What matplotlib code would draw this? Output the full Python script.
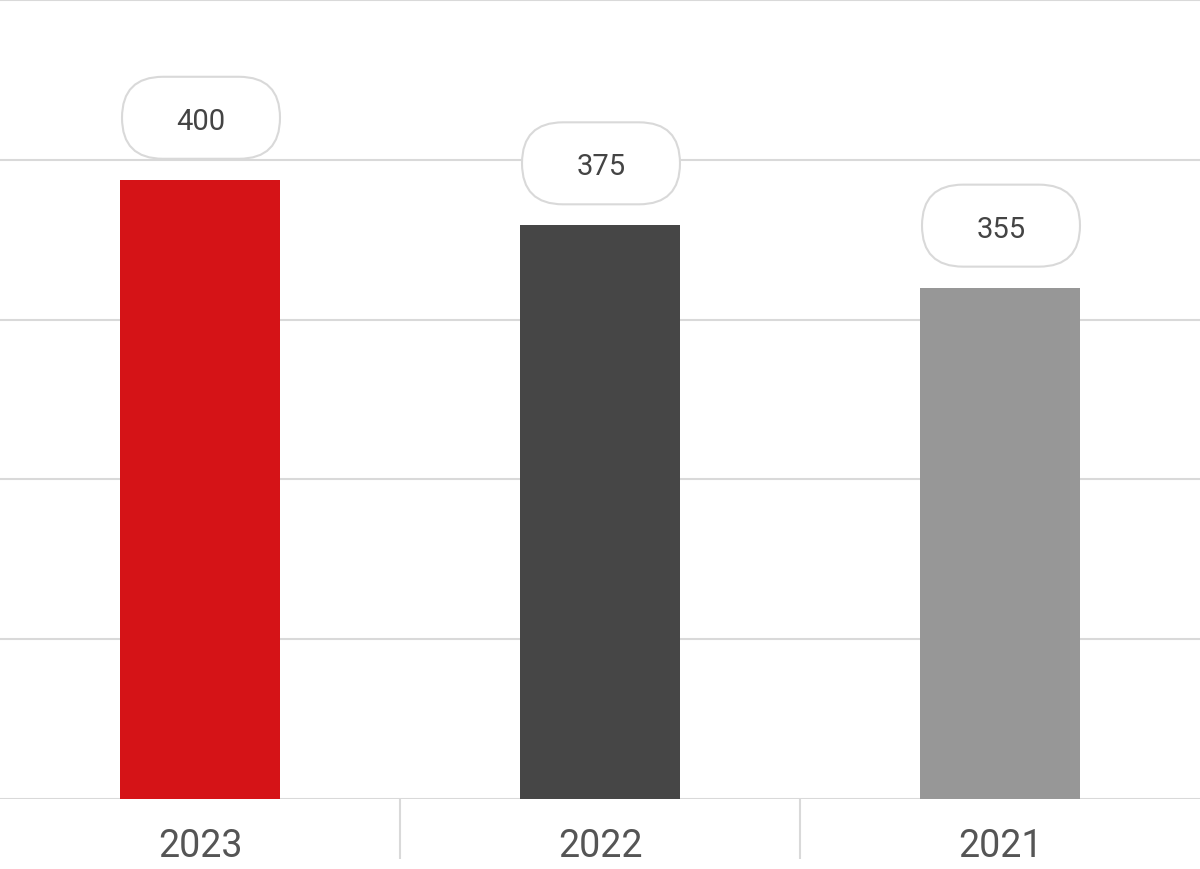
import matplotlib
matplotlib.use("Agg")
import matplotlib.pyplot as plt
from matplotlib.patches import FancyBboxPatch
from matplotlib.transforms import IdentityTransform

categories = ["2023", "2022", "2021"]
values = [387.5, 359, 320]
labels = ["400", "375", "355"]
colors = ["#d51317", "#464646", "#979797"]

W, H = 1200, 870
fig = plt.figure(figsize=(W/100, H/100), dpi=100)
ax = fig.add_axes([0, 70/H, 1, 799/H])
x = range(len(categories))
ax.bar(x, values, width=0.4, color=colors, zorder=3)
ax.set_xlim(-0.5, 2.5)
ax.set_ylim(0, 500)
ax.set_yticks([0, 100, 200, 300, 400, 500])
ax.yaxis.grid(True, color="#d9d9d9", lw=1.5, zorder=0)
ax.tick_params(axis="y", length=0, labelleft=False)
for s in ax.spines.values():
    s.set_visible(False)
ax.set_xticks(list(x))
ax.set_xticklabels(categories, fontsize=27, color="#555555", family="Roboto")
ax.tick_params(axis="x", which="major", length=0, pad=20)
ax.set_xticks([0.5, 1.5], minor=True)
ax.tick_params(axis="x", which="minor", length=43, width=1.5, color="#d9d9d9")

fig.canvas.draw()
for i, (v, lab) in enumerate(zip(values, labels)):
    cx, top = ax.transData.transform((i, v))
    cx += 1
    bw, bh, gap = 158, 82, 21
    y0 = top + gap
    p = FancyBboxPatch((cx - bw/2 + 41, y0 + 41), bw - 82, 0,
                       boxstyle="round,pad=41,rounding_size=41", transform=IdentityTransform(),
                       facecolor="white", edgecolor="#d9d9d9", lw=1.5, zorder=4)
    fig.add_artist(p)
    fig.text(cx/W, (y0 + bh/2 - 3)/H, lab, ha="center", va="center", fontsize=21,
             color="#444444", family="Roboto", zorder=5)

fig.savefig("out.png", dpi=100)
